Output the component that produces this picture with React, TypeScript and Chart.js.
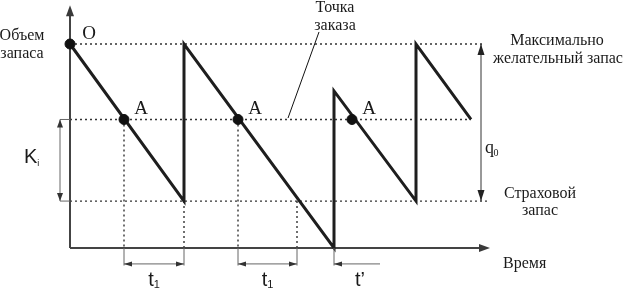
import React, { useEffect, useRef } from "react";
import { Chart, registerables } from "chart.js";
Chart.register(...registerables);

// Inventory sawtooth (time units, stock units)
const cycleTimes = [0, 11.4, 11.4, 26.4, 26.4, 34.6, 34.6, 40.1];
const stockLevels = [100, 23, 100, 0, 77, 23, 100, 63];
// Levels: maximum desired stock, reorder point, safety stock
const levelValues = [100, 63, 23];
const levelEnds = [41.4, 40.1, 41.8];
// Start point O and order points A
const startTime = 0;
const startStock = 100;
const orderPointTimes = [5.4, 16.8, 28.2];
const orderPointStock = 63;
// Lead-time intervals t1 and t'
const leadStarts = [5.4, 16.8];
const leadEnds = [11.4, 22.7];
const tPrimeStart = 26.4;
const tPrimeEnd = 31;
// Axis extents
const timeAxisEnd = 42;
const stockAxisEnd = 119;
const sideArrowTime = 41.1;
const kiArrowTime = -1;
const dimLevel = -7.8;
const tickBottom = -8.6;

const SERIF = '"Liberation Serif", "Times New Roman", serif';
const SANS = '"Liberation Sans", Arial, sans-serif';

function head(ctx: CanvasRenderingContext2D, x: number, y: number, ang: number, len: number, half: number) {
  const c = Math.cos(ang), s = Math.sin(ang);
  ctx.beginPath();
  ctx.moveTo(x, y);
  ctx.lineTo(x - len * c + half * s, y - len * s - half * c);
  ctx.lineTo(x - len * c - half * s, y - len * s + half * c);
  ctx.closePath();
  ctx.fill();
}

const decorPlugin = {
  id: "decor",
  afterDatasetsDraw(chart: any) {
    const ctx: CanvasRenderingContext2D = chart.ctx;
    const X = (t: number) => chart.scales.x.getPixelForValue(t);
    const Y = (v: number) => chart.scales.y.getPixelForValue(v);
    ctx.save();
    // axis arrowheads
    ctx.fillStyle = "#3a3a3a";
    head(ctx, X(0), Y(stockAxisEnd), -Math.PI / 2, 11, 4);
    head(ctx, X(timeAxisEnd), Y(0), 0, 11, 4);

    // thin grey dimension lines
    ctx.strokeStyle = "#666";
    ctx.fillStyle = "#333";
    ctx.lineWidth = 1;
    const seg = (x1: number, y1: number, x2: number, y2: number) => {
      ctx.beginPath();
      ctx.moveTo(x1, y1);
      ctx.lineTo(x2, y2);
      ctx.stroke();
    };
    // ticks below x axis
    [...leadStarts, ...leadEnds, tPrimeStart].forEach((t) => seg(X(t), Y(0), X(t), Y(tickBottom)));
    // Ki
    seg(X(kiArrowTime), Y(levelValues[1]), X(0), Y(levelValues[1]));
    seg(X(kiArrowTime), Y(levelValues[2]), X(0), Y(levelValues[2]));
    seg(X(kiArrowTime), Y(levelValues[1]), X(kiArrowTime), Y(levelValues[2]));
    head(ctx, X(kiArrowTime), Y(levelValues[1]), -Math.PI / 2, 8, 3);
    head(ctx, X(kiArrowTime), Y(levelValues[2]), Math.PI / 2, 8, 3);
    // q0
    ctx.strokeStyle = "#333";
    seg(X(sideArrowTime), Y(levelValues[0]), X(sideArrowTime), Y(levelValues[2]));
    ctx.fillStyle = "#222";
    head(ctx, X(sideArrowTime), Y(levelValues[0]), -Math.PI / 2, 11, 3.5);
    head(ctx, X(sideArrowTime), Y(levelValues[2]), Math.PI / 2, 11, 3.5);
    // t1 arrows
    ctx.strokeStyle = "#666";
    ctx.fillStyle = "#333";
    leadStarts.forEach((s, i) => {
      const e = leadEnds[i];
      seg(X(s), Y(dimLevel), X(e), Y(dimLevel));
      head(ctx, X(s), Y(dimLevel), Math.PI, 8, 2.5);
      head(ctx, X(e), Y(dimLevel), 0, 8, 2.5);
    });
    // t'
    seg(X(tPrimeStart), Y(dimLevel), X(tPrimeEnd), Y(dimLevel));
    head(ctx, X(tPrimeStart), Y(dimLevel), Math.PI, 8, 2.5);

    // leader line for "Точка заказа"
    ctx.strokeStyle = "#111";
    ctx.lineWidth = 1;
    seg(X(21.8), Y(63.7), X(24.9), Y(105.9));

    // texts
    ctx.fillStyle = "#1a1a1a";
    ctx.textBaseline = "alphabetic";
    const text = (s: string, t: number, v: number, font: string, align: CanvasTextAlign = "center") => {
      ctx.font = font;
      ctx.textAlign = align;
      ctx.fillText(s, X(t), Y(v));
    };
    const f16 = `16px ${SERIF}`;
    text("Объем", -4.8, 102, f16);
    text("запаса", -4.8, 93.1, f16);
    text("O", 1.9, 102.3, `19px ${SERIF}`);
    orderPointTimes.forEach((t) => text("A", t + 1.7, 65.9, `19px ${SERIF}`));
    text("Точка", 26.5, 115.7, f16);
    text("заказа", 26.5, 106.9, f16);
    text("Максимально", 48.7, 99.5, f16);
    text("желательный запас", 48.8, 90.7, f16);
    text("Страховой", 47.0, 24.5, f16);
    text("запас", 47.0, 16.2, f16);
    text("Время", 43.3, -9.8, f16, "left");
    // q0
    ctx.font = `18px ${SERIF}`;
    ctx.textAlign = "left";
    const qx = X(41.5);
    ctx.fillText("q", qx, Y(46.6));
    const qw = ctx.measureText("q").width;
    ctx.font = `10px ${SERIF}`;
    ctx.fillText("0", qx + qw - 0.5, Y(45.2));
    // Ki
    ctx.font = `20px ${SANS}`;
    const kx = X(-4.6);
    ctx.fillText("K", kx, Y(41.7));
    const kw = ctx.measureText("K").width;
    ctx.font = `9px ${SANS}`;
    ctx.fillText("i", kx + kw, Y(40.3));
    // t1
    const sub = (t: number) => {
      ctx.font = `20px ${SANS}`;
      const w1 = ctx.measureText("t").width;
      ctx.font = `11px ${SANS}`;
      const w2 = ctx.measureText("1").width;
      const x0 = X(t) - (w1 + w2) / 2;
      ctx.font = `20px ${SANS}`;
      ctx.textAlign = "left";
      ctx.fillText("t", x0, Y(-18.6));
      ctx.font = `11px ${SANS}`;
      ctx.fillText("1", x0 + w1, Y(-19.6));
    };
    leadStarts.forEach((s, i) => sub((s + leadEnds[i]) / 2));
    text("t’", 29.0, -18.6, `20px ${SANS}`);
    ctx.restore();
  },
};

export default function App() {
  const ref = useRef<HTMLCanvasElement>(null);
  useEffect(() => {
    if (!ref.current) return;
    const dotted = { borderColor: "#333", borderWidth: 1.4, borderDash: [2, 3], pointRadius: 0, order: 5 };
    const datasets: any[] = [
      {
        data: cycleTimes.map((t, i) => ({ x: t, y: stockLevels[i] })),
        borderColor: "#1e1e1e",
        borderWidth: 3,
        pointRadius: 0,
        borderJoinStyle: "miter",
        order: 1,
      },
      {
        data: [{ x: startTime, y: startStock }, ...orderPointTimes.map((t) => ({ x: t, y: orderPointStock }))],
        showLine: false,
        pointRadius: 5,
        pointBackgroundColor: "#111",
        pointBorderColor: "#111",
        order: 0,
      },
      {
        data: [{ x: 0, y: 0 }, { x: timeAxisEnd - 1, y: 0 }],
        borderColor: "#444",
        borderWidth: 2,
        pointRadius: 0,
        order: 4,
      },
      {
        data: [{ x: 0, y: 0 }, { x: 0, y: stockAxisEnd - 4 }],
        borderColor: "#444",
        borderWidth: 2,
        pointRadius: 0,
        order: 4,
      },
      ...levelValues.map((v, i) => ({ ...dotted, data: [{ x: 0, y: v }, { x: levelEnds[i], y: v }] })),
      ...leadStarts.map((t) => ({ ...dotted, data: [{ x: t, y: orderPointStock }, { x: t, y: 0 }] })),
      ...leadEnds.map((t) => ({ ...dotted, data: [{ x: t, y: levelValues[2] }, { x: t, y: 0 }] })),
    ];
    const chart = new Chart(ref.current, {
      type: "line",
      data: { datasets },
      options: {
        animation: false,
        responsive: false,
        events: [],
        layout: { padding: 0, autoPadding: false },
        plugins: { legend: { display: false }, tooltip: { enabled: false } },
        scales: {
          x: { type: "linear", display: false, min: -7, max: 55.4 },
          y: { type: "linear", display: false, min: -20.1, max: 121.57 },
        },
      },
      plugins: [decorPlugin],
    });
    return () => chart.destroy();
  }, []);
  return (
    <div style={{ position: "absolute", left: 0, top: 0, width: 624, height: 289, background: "#fff" }}>
      <canvas ref={ref} width={624} height={289} />
    </div>
  );
}
